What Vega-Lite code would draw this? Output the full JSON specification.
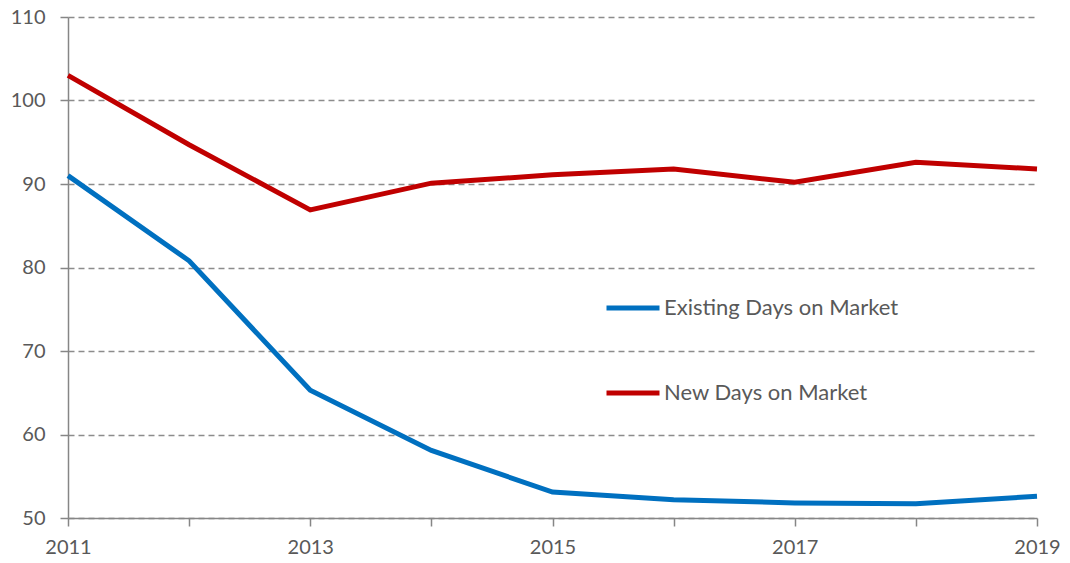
{
  "$schema": "https://vega.github.io/schema/vega-lite/v6.json",
  "autosize": {"type": "none"},
  "width": 969,
  "height": 501,
  "padding": {"left": 68, "top": 17, "right": 33, "bottom": 45},
  "background": "white",
  "config": {
    "view": {"stroke": null},
    "font": "Lato",
    "axis": {"labelFont": "Lato", "labelColor": "#595959", "labelFontSize": 20, "domainColor": "#868686", "tickColor": "#868686", "domainWidth": 1.5, "tickWidth": 1.5, "tickSize": 8}
  },
  "data": {
    "values": [
      {"year": 2011, "series": "Existing Days on Market", "value": 91.0},
      {"year": 2012, "series": "Existing Days on Market", "value": 80.8},
      {"year": 2013, "series": "Existing Days on Market", "value": 65.3},
      {"year": 2014, "series": "Existing Days on Market", "value": 58.1},
      {"year": 2015, "series": "Existing Days on Market", "value": 53.1},
      {"year": 2016, "series": "Existing Days on Market", "value": 52.2},
      {"year": 2017, "series": "Existing Days on Market", "value": 51.8},
      {"year": 2018, "series": "Existing Days on Market", "value": 51.7},
      {"year": 2019, "series": "Existing Days on Market", "value": 52.6},
      {"year": 2011, "series": "New Days on Market", "value": 103.0},
      {"year": 2012, "series": "New Days on Market", "value": 94.7},
      {"year": 2013, "series": "New Days on Market", "value": 86.9},
      {"year": 2014, "series": "New Days on Market", "value": 90.1},
      {"year": 2015, "series": "New Days on Market", "value": 91.1},
      {"year": 2016, "series": "New Days on Market", "value": 91.8},
      {"year": 2017, "series": "New Days on Market", "value": 90.2},
      {"year": 2018, "series": "New Days on Market", "value": 92.6},
      {"year": 2019, "series": "New Days on Market", "value": 91.8}
    ]
  },
  "mark": {"type": "line", "strokeWidth": 5, "strokeJoin": "miter", "strokeCap": "butt"},
  "encoding": {
    "x": {
      "field": "year", "type": "quantitative",
      "scale": {"domain": [2011, 2019], "nice": false, "zero": false},
      "axis": {"title": null, "grid": false, "values": [2011, 2012, 2013, 2014, 2015, 2016, 2017, 2018, 2019], "labelExpr": "datum.value % 2 == 1 ? datum.value : ''", "labelPadding": 11, "labelFlush": false}
    },
    "y": {
      "field": "value", "type": "quantitative",
      "scale": {"domain": [50, 110], "nice": false, "zero": false},
      "axis": {"title": null, "values": [50, 60, 70, 80, 90, 100, 110], "grid": true, "gridColor": "#8c8c8c", "gridDash": [6, 4], "gridWidth": 1.5, "labelPadding": 15}
    },
    "color": {
      "field": "series", "type": "nominal",
      "sort": ["Existing Days on Market", "New Days on Market"],
      "scale": {"domain": ["Existing Days on Market", "New Days on Market"], "range": ["#0070C0", "#C00000"]},
      "legend": {"title": null, "orient": "none", "legendX": 536, "legendY": 262, "symbolType": "stroke", "symbolStrokeWidth": 5, "symbolSize": 2809, "labelFontSize": 22, "labelColor": "#595959", "labelFont": "Lato", "labelOffset": 2, "labelLimit": 500, "rowPadding": 45}
    }
  }
}
